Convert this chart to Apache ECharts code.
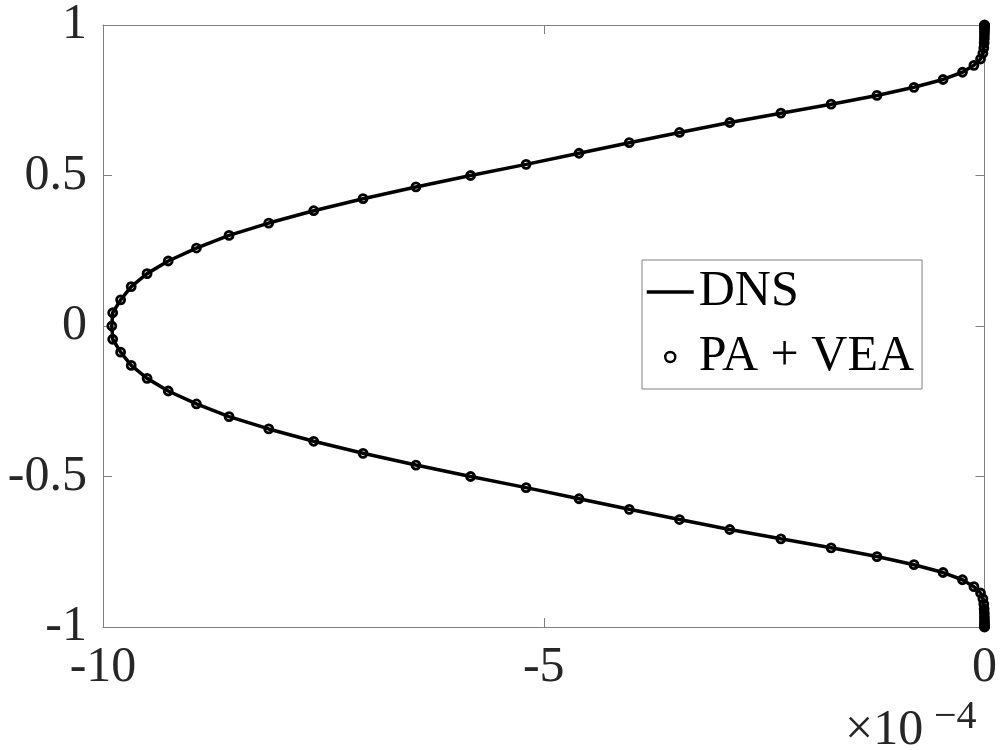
<!DOCTYPE html>
<html>
<head>
<meta charset="utf-8">
<script src="https://cdn.jsdelivr.net/npm/echarts@6/dist/echarts.min.js"></script>
<style>
  html, body { margin: 0; padding: 0; background: #fff; }
  #chart { width: 1000px; height: 750px; }
</style>
</head>
<body>
<div id="chart"></div>
<script>
// wall-normal positions (Chebyshev-like grid), bottom wall to top wall
const yPoints = [
  -1, -0.999, -0.996, -0.991, -0.985, -0.976, -0.966, -0.954, -0.94, -0.924,
  -0.906, -0.887, -0.866, -0.843, -0.819, -0.793, -0.766, -0.737, -0.707, -0.676,
  -0.643, -0.609, -0.574, -0.537, -0.5, -0.462, -0.423, -0.383, -0.342, -0.301,
  -0.259, -0.216, -0.174, -0.131, -0.087, -0.044, 0,
  0.044, 0.087, 0.131, 0.174, 0.216, 0.259, 0.301, 0.342, 0.383, 0.423,
  0.462, 0.5, 0.537, 0.574, 0.609, 0.643, 0.676, 0.707, 0.737, 0.766,
  0.793, 0.819, 0.843, 0.866, 0.887, 0.906, 0.924, 0.94, 0.954, 0.966,
  0.976, 0.985, 0.991, 0.996, 0.999, 1
];
// profile values (x 1e-4), DNS and PA + VEA lie on top of each other
const dnsX = [
  0, 0, 0, -0.0001, -0.0002, -0.0005, -0.001, -0.002, -0.004, -0.008,
  -0.018, -0.045, -0.12, -0.25, -0.47, -0.8, -1.22, -1.74, -2.31, -2.89,
  -3.46, -4.03, -4.6, -5.2, -5.83, -6.45, -7.05, -7.61, -8.12, -8.57,
  -8.94, -9.26, -9.5, -9.68, -9.8, -9.89, -9.9,
  -9.89, -9.8, -9.68, -9.5, -9.26, -8.94, -8.57, -8.12, -7.61, -7.05,
  -6.45, -5.83, -5.2, -4.6, -4.03, -3.46, -2.89, -2.31, -1.74, -1.22,
  -0.8, -0.47, -0.25, -0.12, -0.045, -0.018, -0.008, -0.004, -0.002, -0.001,
  -0.0005, -0.0002, -0.0001, 0, 0, 0
];
const paX = dnsX.slice();
const paY = yPoints.slice();

const xTicks = [-10, 0, 5];   // min, max, interval
const yTicks = [-1, 1, 0.5];

const font = 'Liberation Serif';
const axisGrey = '#808080';

const dnsData = dnsX.map((x, i) => [x, yPoints[i]]);
const paData = paX.map((x, i) => [x, paY[i]]);

const chart = echarts.init(document.getElementById('chart'));

const makeAxis = (ticks, position, showLabel) => ({
  type: 'value',
  position: position,
  min: ticks[0],
  max: ticks[1],
  interval: ticks[2],
  axisLine: {show: true, onZero: false, lineStyle: {color: axisGrey, width: 1}},
  axisTick: {show: true, inside: true, length: 9, lineStyle: {color: axisGrey, width: 1}},
  axisLabel: {
    show: showLabel,
    margin: 16,
    fontFamily: font,
    fontSize: 50,
    color: '#262626',
    showMinLabel: true,
    showMaxLabel: true
  },
  splitLine: {show: false}
});

const option = {
  backgroundColor: '#fff',
  animation: false,
  grid: {left: 103, right: 12, top: 22, bottom: 123, containLabel: false},
  xAxis: [makeAxis(xTicks, 'bottom', true), makeAxis(xTicks, 'top', false)],
  yAxis: [makeAxis(yTicks, 'left', true), makeAxis(yTicks, 'right', false)],
  legend: {
    orient: 'vertical',
    left: 642,
    top: 260,
    backgroundColor: '#fff',
    borderColor: axisGrey,
    borderWidth: 1,
    padding: [7, 8, 7, 3],
    itemGap: 15,
    itemWidth: 47,
    itemHeight: 10,
    textStyle: {fontFamily: font, fontSize: 50, color: '#000', width: 270},
    data: [
      {name: 'DNS', itemStyle: {opacity: 0}, lineStyle: {width: 3.5, color: '#000'}},
      {name: 'PA + VEA', itemStyle: {borderWidth: 2.5}}
    ]
  },
  graphic: [
    {type: 'text', x: 845, y: 731, style: {text: '×10', font: '50px "Liberation Serif"', fill: '#262626', verticalAlign: 'middle'}},
    {type: 'text', x: 934, y: 717, style: {text: '−4', font: '40px "Liberation Serif"', fill: '#262626', verticalAlign: 'middle'}}
  ],
  series: [
    {
      name: 'DNS',
      type: 'line',
      data: dnsData,
      symbol: 'none',
      clip: false,
      lineStyle: {color: '#000', width: 3.5},
      itemStyle: {color: '#000'},
      z: 2
    },
    {
      name: 'PA + VEA',
      type: 'scatter',
      data: paData,
      symbol: 'circle',
      symbolSize: 8,
      clip: false,
      itemStyle: {color: 'rgba(255,255,255,0)', borderColor: '#000', borderWidth: 2.8, opacity: 1},
      z: 3
    }
  ]
};

chart.setOption(option);
</script>
</body>
</html>
